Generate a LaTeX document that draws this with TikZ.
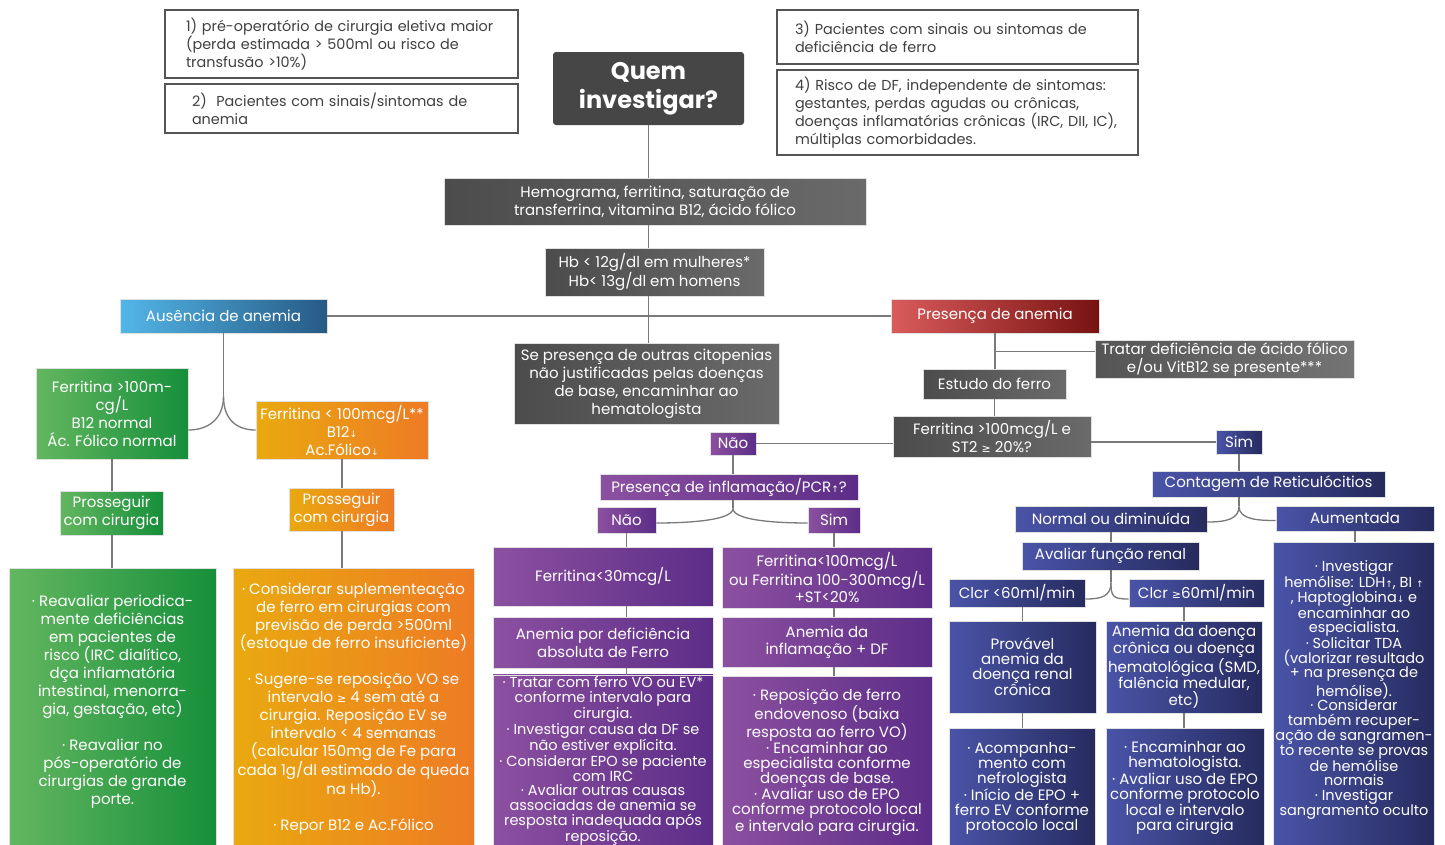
\documentclass[tikz,border=0pt]{standalone}
\usepackage{fontspec}
\setmainfont{Poppins}
\newfontfamily\symf{DejaVu Sans}
\usetikzlibrary{calc}
\newcommand\arup{{\symf\fontsize{9}{9}\selectfont ↑}}
\newcommand\ardn{{\symf\fontsize{9}{9}\selectfont ↓}}
\newcommand\gtq{{\symf\fontsize{11}{11}\selectfont ≥}}
\definecolor{cgray}{HTML}{7A7A7A}
\definecolor{tb}{HTML}{555555}
\definecolor{tt}{HTML}{404040}
\definecolor{qgray}{HTML}{464646}
\definecolor{gyL}{HTML}{4C4C4C}
\definecolor{gyR}{HTML}{6A6A6A}
\definecolor{lgL}{HTML}{555555}
\definecolor{lgR}{HTML}{747474}
\definecolor{blL}{HTML}{52B6E8}
\definecolor{blR}{HTML}{275A85}
\definecolor{rdL}{HTML}{DA5B5B}
\definecolor{rdR}{HTML}{781212}
\definecolor{grL}{HTML}{64B660}
\definecolor{grR}{HTML}{168F3A}
\definecolor{orL}{HTML}{E9A90F}
\definecolor{orR}{HTML}{EE7B24}
\definecolor{puL}{HTML}{8C50A0}
\definecolor{puR}{HTML}{5C2D88}
\definecolor{nvL}{HTML}{4A54A8}
\definecolor{nvR}{HTML}{262B5E}
\newcommand\bx[7]{\node[#1, minimum width={(#5-#3)*1pt}, minimum height={(#6-#4)*1pt}] (#2) at ({(#3+#5)/2},{(#4+#6)/2}) {#7};}
\tikzset{
  conn/.style={draw=cgray, line width=1.3pt},
  base/.style={inner sep=2pt, align=center, text=white, font=\fontsize{15}{18}\selectfont, draw=black!12, line width=0.8pt},
  dense/.style={font=\fontsize{15}{15}\selectfont},
  tight/.style={font=\fontsize{14.5}{14.7}\selectfont},
  mid/.style={font=\fontsize{15}{16.5}\selectfont},
  tbox/.style={draw=tb, line width=1.6pt, fill=white, text=tt, align=left, inner sep=0pt, font=\fontsize{14.4}{18}\selectfont},
  quembox/.style={fill=qgray, rounded corners=3pt, text=white, align=center, font=\fontsize{24}{29}\selectfont\bfseries},
  graybox/.style={base, left color=gyL, right color=gyR},
  lgraybox/.style={base, left color=lgL, right color=lgR},
  bluebox/.style={base, left color=blL, right color=blR},
  redbox/.style={base, left color=rdL, right color=rdR},
  greenbox/.style={base, left color=grL, right color=grR},
  orangebox/.style={base, left color=orL, right color=orR},
  purplebox/.style={base, left color=puL, right color=puR},
  navybox/.style={base, left color=nvL, right color=nvR},
}
\begin{document}
\begin{tikzpicture}[x=1pt,y=-1pt]
\useasboundingbox[fill=white] (0,0) rectangle (1445,844);
% top boxes
\bx{tbox, text width=311pt}{t1}{165}{10}{518}{78}{\mbox{1) pré-operatório de cirurgia eletiva maior}\\\mbox{(perda estimada > 500ml ou risco de}\\\mbox{transfusão >10\%)}}
\bx{tbox, text width=299pt}{t2}{165}{84}{518}{133}{\mbox{2)~ Pacientes com sinais/sintomas de}\\anemia}
\bx{tbox, text width=325pt}{t3}{777}{10}{1138}{64}{\mbox{3) Pacientes com sinais ou sintomas de}\\\mbox{deficiência de ferro}}
\bx{tbox, text width=325pt}{t4}{777}{70}{1138}{155}{\mbox{4) Risco de DF, independente de sintomas:}\\\mbox{gestantes, perdas agudas ou crônicas,}\\\mbox{doenças inflamatórias crônicas (IRC, DII, IC),}\\\mbox{múltiplas comorbidades.}}
\bx{quembox}{quem}{553}{52}{744}{125}{Quem\\investigar?}
\bx{graybox}{hemo}{444}{178}{866}{225}{Hemograma, ferritina, saturação de\\transferrina, vitamina B12, ácido fólico}
\bx{graybox}{hb}{545}{248}{764}{296}{Hb < 12g/dl em mulheres*\\Hb< 13g/dl em homens}
\bx{bluebox}{aus}{120}{299}{327}{333}{Ausência de anemia}
\bx{redbox}{pres}{891}{299}{1099}{333}{Presença de anemia}
\bx{graybox}{se}{514}{343}{779}{424}{Se presença de outras citopenias\\não justificadas pelas doenças\\de base, encaminhar ao\\hematologista}
% left branch
\bx{greenbox}{g1}{36}{368}{188}{459}{Ferritina >100m-\\cg/L\\B12 normal\\Ác. Fólico normal}
\bx{orangebox}{o1}{256}{401}{428}{459}{Ferritina < 100mcg/L**\\B12\ardn\\Ac.Fólico\ardn}
\bx{greenbox}{g2}{60}{491}{163}{535}{Prosseguir\\com cirurgia}
\bx{orangebox}{o2}{289}{488}{394}{531}{Prosseguir\\com cirurgia}
\bx{greenbox}{g3}{9}{568}{216}{850}{· Reavaliar periodica-\\mente deficiências\\em pacientes de\\risco (IRC dialítico,\\dça inflamatória\\intestinal, menorra-\\gia, gestação, etc)\\[18pt]· Reavaliar no\\pós-operatório de\\cirurgias de grande\\porte.\\\mbox{}}
\bx{orangebox}{o3}{233}{568}{474}{850}{· Considerar suplementeação\\de ferro em cirurgias com\\previsão de perda >500ml\\(estoque de ferro insuficiente)\\[18pt]· Sugere-se reposição VO se\\intervalo \gtq{} 4 sem até a\\cirurgia. Reposição EV se\\intervalo < 4 semanas\\(calcular 150mg de Fe para\\cada 1g/dl estimado de queda\\na Hb).\\[18pt]· Repor B12 e Ac.Fólico}
% right branch
\bx{lgraybox}{trat}{1095}{341}{1354}{378}{Tratar deficiência de ácido fólico\\e/ou VitB12 se presente***}
\bx{graybox}{est}{923}{369}{1066}{399}{Estudo do ferro}
\bx{graybox}{q}{893}{416}{1091}{457}{Ferritina >100mcg/L e\\ST2 \gtq{} 20\%?}
\bx{purplebox}{nao1}{710}{432}{756}{455}{Não}
\bx{navybox}{sim1}{1216}{430}{1262}{454}{Sim}
\bx{purplebox}{infl}{600}{474}{858}{500}{Presença de inflamação/PCR\arup?}
\bx{purplebox}{nao2}{597}{507}{656}{533}{Não}
\bx{purplebox}{sim2}{808}{507}{860}{533}{Sim}
\bx{purplebox}{f30}{493}{547}{713}{606}{Ferritina<30mcg/L}
\bx{purplebox,mid}{f100}{722}{547}{932}{608}{Ferritina<100mcg/L\\ou Ferritina 100-300mcg/L\\+ST<20\%}
\bx{purplebox}{adef}{493}{617}{713}{668}{Anemia por deficiência\\absoluta de Ferro}
\bx{purplebox,mid}{ainf}{722}{617}{932}{667}{Anemia da\\inflamação + DF}
\bx{purplebox,tight}{ptrat}{493}{676}{713}{848}{· Tratar com ferro VO ou EV*\\conforme intervalo para\\cirurgia.\\· Investigar causa da DF se\\não estiver explícita.\\· Considerar EPO se paciente\\com IRC\\· Avaliar outras causas\\associadas de anemia se\\resposta inadequada após\\reposição.\\[-8.7pt]\mbox{}}
\bx{purplebox,dense}{prep}{722}{676}{932}{848}{· Reposição de ferro\\endovenoso (baixa\\resposta ao ferro VO)\\· Encaminhar ao\\especialista conforme\\doenças de base.\\· Avaliar uso de EPO\\conforme protocolo local\\e intervalo para cirurgia.}
\bx{navybox}{cont}{1152}{471}{1385}{497}{Contagem de Reticulócitios}
\bx{navybox}{norm}{1015}{506}{1207}{532}{Normal ou diminuída}
\bx{navybox}{aum}{1276}{506}{1434}{531}{Aumentada}
\bx{navybox}{aval}{1022}{542}{1199}{570}{Avaliar função renal}
\bx{navybox}{cl1}{949}{579}{1085}{607}{Clcr <60ml/min}
\bx{navybox}{cl2}{1129}{579}{1264}{607}{Clcr \gtq60ml/min}
\bx{navybox,dense}{prov}{949}{621}{1096}{713}{Provável\\anemia da\\doença renal\\crônica}
\bx{navybox,dense}{adc}{1106}{621}{1262}{713}{Anemia da doença\\crônica ou doença\\hematológica (SMD,\\falência medular,\\etc)}
\bx{navybox,dense}{acomp}{949}{728}{1095}{848}{· Acompanha-\\mento com\\nefrologista\\· Início de EPO +\\ferro EV conforme\\protocolo local}
\bx{navybox,dense}{enc}{1106}{728}{1264}{848}{· Encaminhar ao\\hematologista.\\· Avaliar uso de EPO\\conforme protocolo\\local e intervalo\\para cirurgia}
\bx{navybox,tight}{aumb}{1274}{542}{1434}{848}{· Investigar\\hemólise: LDH\arup, BI \arup\\, Haptoglobina\ardn{} e\\encaminhar ao\\especialista.\\· Solicitar TDA\\(valorizar resultado\\+ na presença de\\hemólise).\\· Considerar\\também recuper-\\ação de sangramen-\\to recente se provas\\de hemólise\\normais\\· Investigar\\sangramento oculto\\\mbox{}}
% connectors: trunk
\draw[conn] (quem.south) -- (quem.south |- hemo.north);
\draw[conn] (quem.south |- hemo.south) -- (quem.south |- hb.north);
\draw[conn] (quem.south |- hb.south) -- (quem.south |- se.north);
\draw[conn] (aus.east) -- (pres.west);
% absence split
\coordinate (j1) at ($(aus.south)+(0,63)$);
\draw[conn] (aus.south) -- (j1);
\draw[conn] (j1) .. controls ($(j1)+(0,24)$) and ($(g1.east |- o1.west)+(18,0)$) .. (g1.east |- o1.west);
\draw[conn] (j1) .. controls ($(j1)+(0,24)$) and ($(o1.west)+(-18,0)$) .. (o1.west);
\draw[conn] (g1.south) -- (g1.south |- g2.north);
\draw[conn] (g1.south |- g2.south) -- (g1.south |- g3.north);
\draw[conn] (o1.south) -- (o1.south |- o2.north);
\draw[conn] (o1.south |- o2.south) -- (o1.south |- o3.north);
% presence
\draw[conn] (pres.south) -- (pres.south |- est.north);
\coordinate (jt) at ($(pres.south)+(0,18)$);
\draw[conn] (jt) -- (jt -| trat.west);
\draw[conn] (est.south) -- (est.south |- q.north);
\draw[conn] (q.west |- nao1.east) -- (nao1.east);
\draw[conn] (q.east |- sim1.west) -- (sim1.west);
\draw[conn] (nao1.south) -- (nao1.south |- infl.north);
\coordinate (j2) at ($(nao1.south |- infl.south)+(0,8)$);
\draw[conn] (nao1.south |- infl.south) -- (j2);
\draw[conn] (j2) .. controls ($(j2)+(0,14)$) and ($(nao2.east)+(16,3)$) .. ($(nao2.east)+(0,3)$);
\draw[conn] (j2) .. controls ($(j2)+(0,14)$) and ($(sim2.west)+(-16,3)$) .. ($(sim2.west)+(0,3)$);
\draw[conn] (nao2.south) -- (nao2.south |- f30.north);
\draw[conn] (nao2.south |- f30.south) -- (nao2.south |- adef.north);
\draw[conn] (nao2.south |- adef.south) -- (nao2.south |- ptrat.north);
\draw[conn] (sim2.south) -- (sim2.south |- f100.north);
\draw[conn] (sim2.south |- f100.south) -- (sim2.south |- ainf.north);
\draw[conn] (sim2.south |- ainf.south) -- (sim2.south |- prep.north);
\draw[conn] (sim1.south) -- (sim1.south |- cont.north);
\coordinate (j3) at ($(sim1.south |- cont.south)+(0,9)$);
\draw[conn] (sim1.south |- cont.south) -- (j3);
\draw[conn] (j3) .. controls ($(j3)+(0,13)$) and ($(norm.east)+(18,3)$) .. ($(norm.east)+(0,3)$);
\draw[conn] (j3) .. controls ($(j3)+(0,13)$) and ($(aum.west)+(-18,2)$) .. ($(aum.west)+(0,2)$);
\draw[conn] (norm.south) -- (norm.south |- aval.north);
\coordinate (j4) at ($(norm.south |- aval.south)+(0,12)$);
\draw[conn] (norm.south |- aval.south) -- (j4);
\draw[conn] (j4) .. controls ($(j4)+(0,14)$) and ($(cl1.east)+(16,6)$) .. ($(cl1.east)+(0,6)$);
\draw[conn] (j4) .. controls ($(j4)+(0,14)$) and ($(cl2.west)+(-16,6)$) .. ($(cl2.west)+(0,6)$);
\draw[conn] (prov.north |- cl1.south) -- (prov.north);
\draw[conn] (prov.south) -- (prov.south |- acomp.north);
\draw[conn] (adc.north |- cl2.south) -- (adc.north);
\draw[conn] (adc.south) -- (adc.south |- enc.north);
\draw[conn] (aum.south) -- (aum.south |- aumb.north);
\end{tikzpicture}
\end{document}
